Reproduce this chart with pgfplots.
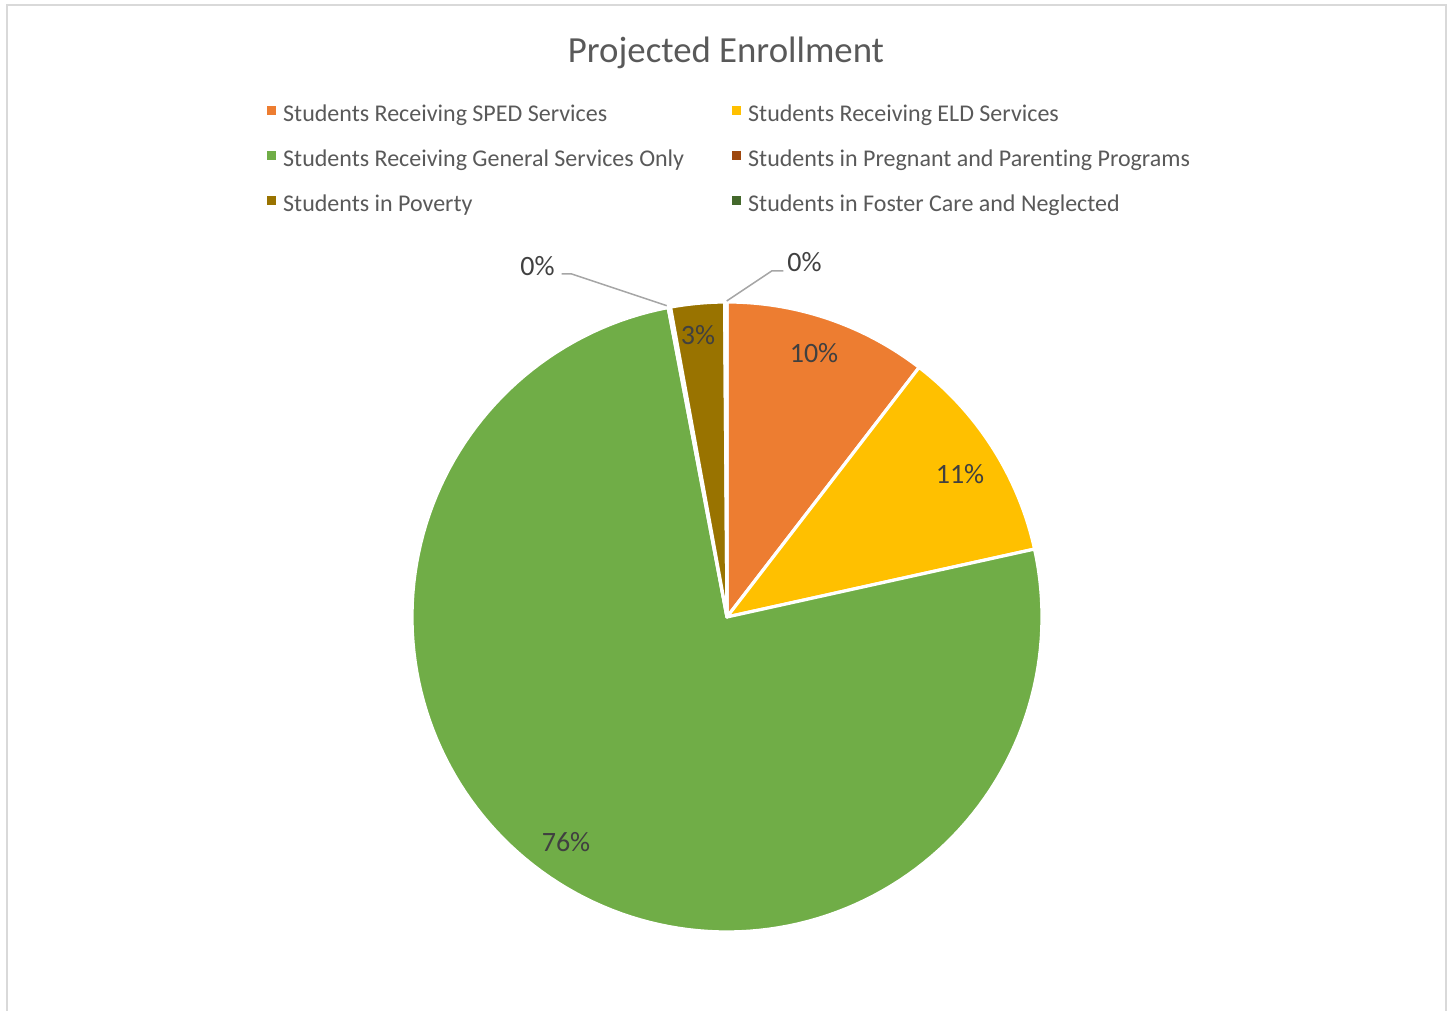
\documentclass[border=0pt]{standalone}
\usepackage{pgfplots}
\usepackage{pgfplotstable}
\pgfplotsset{compat=1.18}
\usepackage{fontspec}
\setmainfont{Carlito}[Ligatures=NoCommon]
\definecolor{cSped}{HTML}{ED7D31}
\definecolor{cEld}{HTML}{FFC000}
\definecolor{cGen}{HTML}{70AD47}
\definecolor{cPreg}{HTML}{9E480E}
\definecolor{cPov}{HTML}{997300}
\definecolor{cFos}{HTML}{43682B}
\definecolor{txtgray}{HTML}{595959}
\definecolor{lblgray}{HTML}{404040}
\definecolor{framegray}{HTML}{D9D9D9}
\definecolor{leadgray}{HTML}{A6A6A6}

\pgfplotstableread[col sep=comma]{
name,value,color
Students Receiving SPED Services,10.44,cSped
Students Receiving ELD Services,11.10,cEld
Students Receiving General Services Only,75.47,cGen
Students in Pregnant and Parenting Programs,0.12,cPreg
Students in Poverty,2.75,cPov
Students in Foster Care and Neglected,0.12,cFos
}\piedata

\begin{document}
\begin{tikzpicture}
\path[use as bounding box] (0pt,0pt) rectangle (726.5pt,505.5pt);
\draw[framegray, line width=1pt] (3.5pt,-10pt) -- (3.5pt,503pt) -- (723.2pt,503pt) -- (723.2pt,-10pt);
\node[anchor=base, text=txtgray, font=\fontsize{18.4}{22}\selectfont] at (363pt,474pt) {Projected Enrollment};
\begin{axis}[
  at={(363.5pt,197pt)}, anchor=origin,
  x=157.5pt, y=157.5pt,
  xmin=-1, xmax=1, ymin=-1, ymax=1,
  hide axis, clip=false,
  legend columns=2,
  legend cell align=left,
  legend image code/.code={\path[#1, draw=none] (0pt,0.5pt) rectangle (4.65pt,5.15pt);},
  legend style={
    at={(axis description cs:-0.2306,1.3127)}, anchor=north west,
    draw=none, fill=none, inner sep=0pt, outer sep=0pt,
    font=\fontsize{12}{14}\selectfont, text=txtgray,
    row sep=11.5pt,
    nodes={inner sep=0pt, text height=8.5pt, text depth=2.5pt},
    /tikz/every odd column/.append style={column sep=3.6pt},
    /tikz/every even column/.append style={column sep=23.8pt},
  },
]
\def\cum{0}
\pgfplotsforeachungrouped \i in {0,...,5}{%
  \pgfplotstablegetelem{\i}{value}\of\piedata \let\val\pgfplotsretval
  \pgfplotstablegetelem{\i}{color}\of\piedata \let\col\pgfplotsretval
  \pgfplotstablegetelem{\i}{name}\of\piedata \let\nm\pgfplotsretval
  \pgfmathsetmacro\angA{3.6*\cum}%
  \pgfmathsetmacro\angB{3.6*(\cum+\val)}%
  \edef\temp{\noexpand\addplot[fill=\col, draw=white, line width=1.6pt, line join=round, domain=\angA:\angB, samples=150] ({sin(x)},{cos(x)}) -- (axis cs:0,0) -- cycle; \noexpand\addlegendentry{\nm}}%
  \temp
  \pgfmathsetmacro\cum{\cum+\val}%
}
\draw[leadgray, line width=0.75pt] (axis cs:-0.5248,1.0889) -- (axis cs:-0.4930,1.0889) -- (axis cs:-0.1914,0.9883);
\draw[leadgray, line width=0.75pt] (axis cs:0.1787,1.0984) -- (axis cs:0.1419,1.0984) -- (axis cs:-0.001,1.0032);
\begin{scope}[every node/.style={text=lblgray, font=\fontsize{14}{16}\selectfont, inner sep=0pt}]
\node at (axis cs:0.2762,0.8380) {10\%};
\node at (axis cs:0.7397,0.4540) {11\%};
\node at (axis cs:-0.5111,-0.7143) {76\%};
\node at (axis cs:-0.0921,0.8952) {3\%};
\node at (axis cs:-0.6016,1.1143) {0\%};
\node at (axis cs:0.2460,1.1254) {0\%};
\end{scope}
\end{axis}
\end{tikzpicture}
\end{document}
